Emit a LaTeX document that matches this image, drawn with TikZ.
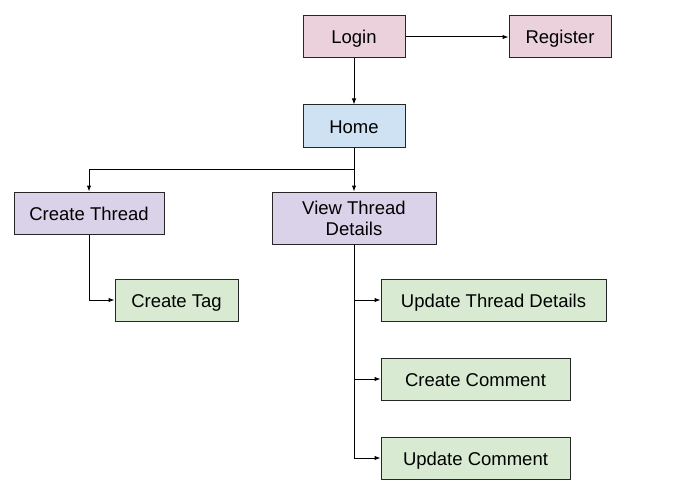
\documentclass[tikz,border=0pt]{standalone}
\usepackage{fontspec}
\setmainfont{Liberation Sans}
\usetikzlibrary{positioning,arrows.meta}
\definecolor{pagepink}{HTML}{EAD1DC}
\definecolor{pageblue}{HTML}{CFE2F3}
\definecolor{pagepurple}{HTML}{D9D2E9}
\definecolor{pagegreen}{HTML}{D9EAD3}
\begin{document}
\begin{tikzpicture}[x=1pt,y=-1pt,node distance=46pt,every node/.style={draw=black!85,line width=1pt,inner sep=2pt,minimum height=42pt,text height=14pt,text depth=0pt,font=\fontsize{18.5}{21}\selectfont}]
\tikzstyle{arrow}=[draw,line width=1pt,-{Latex[length=6pt,width=4.5pt]}]
\useasboundingbox (0,0) rectangle (677,500);

\node[fill=pagepink,minimum width=102pt](login) at (354,37){Login};
\node[fill=pagepink,minimum width=102pt,right=103pt of login](register){Register};
\node[fill=pageblue,minimum width=102pt,below=of login](home){Home};

\node[fill=pagepurple,minimum width=150pt](create) at (89,213){Create Thread};
\node[fill=pagepurple,minimum width=164pt,minimum height=52pt,text height={},text depth={},align=center](view) at (354,218){View Thread\\Details};

\node[fill=pagegreen,minimum width=123pt](tag) at (176.5,300){Create Tag};
\node[fill=pagegreen,minimum width=225pt](updthread) at (493.5,300){Update Thread Details};
\node[fill=pagegreen,minimum width=189pt,below left=36pt and 0pt of updthread.south west,anchor=north west](newcomment){Create Comment};
\node[fill=pagegreen,minimum width=189pt,below=36pt of newcomment](updcomment){Update Comment};

\coordinate(split) at (354,169);

\path[arrow](login.east)--(register.west);
\path[arrow](login.south)--(home.north);

\draw[line width=1pt](home.south)--(split);
\path[arrow](split)-|(create.north);
\path[arrow](split)--(view.north);

\path[arrow](create.south)|-(tag.west);

\path[arrow](view.south)|-(updthread.west);
\path[arrow](view.south)|-(newcomment.west);
\path[arrow](view.south)|-(updcomment.west);
\end{tikzpicture}
\end{document}
